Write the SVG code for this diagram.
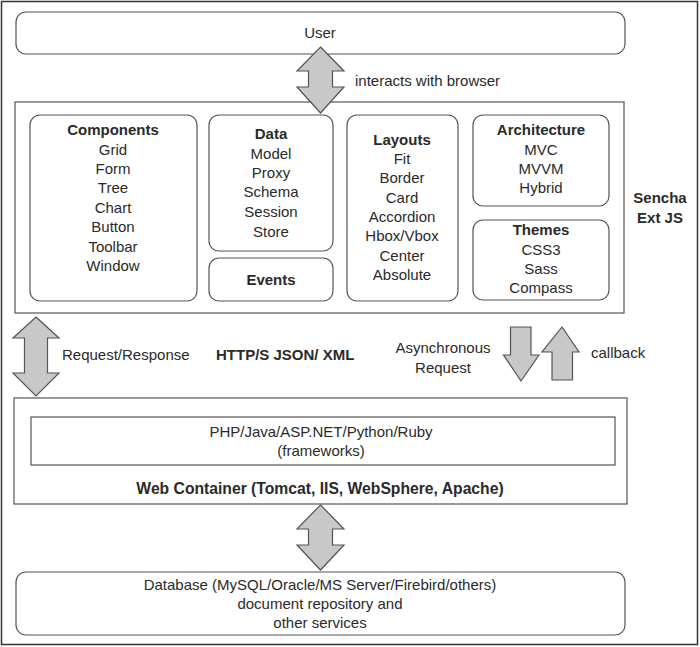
<svg xmlns="http://www.w3.org/2000/svg" width="700" height="647" viewBox="0 0 700 647">
<defs>
<style>
.box{fill:#fff;stroke:#555;stroke-width:1.2}
.arrow{fill:#c8c8c8;stroke:#555;stroke-width:1.2;stroke-linejoin:miter}
text{font-family:"Liberation Sans",Arial,sans-serif;font-size:15px;fill:#2a2a2a}
.c{text-anchor:middle}
.b{font-weight:bold}
</style>
</defs>
<rect x="1.5" y="1.5" width="696" height="643" fill="#fff" stroke="#333" stroke-width="1.5"/>

<g id="user">
<rect class="box" x="16" y="12" width="609" height="42" rx="10"/>
<text class="c" x="320" y="38">User</text>
</g>

<g id="sencha">
<rect class="box" x="15" y="102" width="609" height="211"/>
<text class="c b" x="660" y="203">Sencha</text>
<text class="c b" x="660" y="223">Ext JS</text>
</g>

<g id="components">
<rect class="box" x="30" y="115" width="167" height="186" rx="10"/>
<text class="c b" x="113" y="135">Components</text>
<text class="c" x="113" y="155">Grid</text>
<text class="c" x="113" y="174">Form</text>
<text class="c" x="113" y="193">Tree</text>
<text class="c" x="113" y="213">Chart</text>
<text class="c" x="113" y="232">Button</text>
<text class="c" x="113" y="252">Toolbar</text>
<text class="c" x="113" y="271">Window</text>
</g>

<g id="data">
<rect class="box" x="209" y="115" width="124" height="136" rx="10"/>
<text class="c b" x="271" y="139">Data</text>
<text class="c" x="271" y="159">Model</text>
<text class="c" x="271" y="178">Proxy</text>
<text class="c" x="271" y="197">Schema</text>
<text class="c" x="271" y="217">Session</text>
<text class="c" x="271" y="237">Store</text>
</g>

<g id="events">
<rect class="box" x="209" y="258" width="124" height="43" rx="10"/>
<text class="c b" x="271" y="285">Events</text>
</g>

<g id="layouts">
<rect class="box" x="347" y="115" width="111" height="186" rx="10"/>
<text class="c b" x="402" y="145">Layouts</text>
<text class="c" x="402" y="164">Fit</text>
<text class="c" x="402" y="183">Border</text>
<text class="c" x="402" y="203">Card</text>
<text class="c" x="402" y="222">Accordion</text>
<text class="c" x="402" y="241">Hbox/Vbox</text>
<text class="c" x="402" y="261">Center</text>
<text class="c" x="402" y="280">Absolute</text>
</g>

<g id="architecture">
<rect class="box" x="473" y="115" width="136" height="91" rx="10"/>
<text class="c b" x="541" y="135">Architecture</text>
<text class="c" x="541" y="155">MVC</text>
<text class="c" x="541" y="174">MVVM</text>
<text class="c" x="541" y="193">Hybrid</text>
</g>

<g id="themes">
<rect class="box" x="473" y="220" width="136" height="80" rx="10"/>
<text class="c b" x="541" y="235">Themes</text>
<text class="c" x="541" y="255">CSS3</text>
<text class="c" x="541" y="274">Sass</text>
<text class="c" x="541" y="293">Compass</text>
</g>

<g id="webcontainer">
<rect class="box" x="14" y="398" width="613" height="106"/>
<rect class="box" x="31" y="417" width="584" height="48"/>
<text class="c" x="321" y="437">PHP/Java/ASP.NET/Python/Ruby</text>
<text class="c" x="321" y="456">(frameworks)</text>
<text class="c b" x="320" y="494" style="font-size:15.7px">Web Container (Tomcat, IIS, WebSphere, Apache)</text>
</g>

<g id="database">
<rect class="box" x="16" y="572" width="609" height="63" rx="10"/>
<text class="c" x="320" y="590">Database (MySQL/Oracle/MS Server/Firebird/others)</text>
<text class="c" x="320" y="609">document repository and</text>
<text class="c" x="320" y="628">other services</text>
</g>

<g id="connectors">
<polygon class="arrow" points="320.5,47 344,71 332.5,71 332.5,87 344,87 320.5,113 297,87 308.5,87 308.5,71 297,71"/>
<text x="355" y="86">interacts with browser</text>

<polygon class="arrow" points="36,317 59,338 47.5,338 47.5,373 59,373 36,396 13,373 24.5,373 24.5,338 13,338"/>
<text x="62" y="360">Request/Response</text>
<text class="b" x="216" y="360">HTTP/S JSON/ XML</text>

<text class="c" x="443" y="353">Asynchronous</text>
<text class="c" x="443" y="373">Request</text>
<polygon class="arrow" points="510.5,327 531,327 531,355 539,355 521,381 503.5,355 510.5,355"/>
<polygon class="arrow" points="562,327 579,352 572.5,352 572.5,380 552,380 552,352 542,352"/>
<text x="591" y="358">callback</text>

<polygon class="arrow" points="320.5,505 344,529 332.5,529 332.5,545 344,545 320.5,570 297,545 308.5,545 308.5,529 297,529"/>
</g>
</svg>
